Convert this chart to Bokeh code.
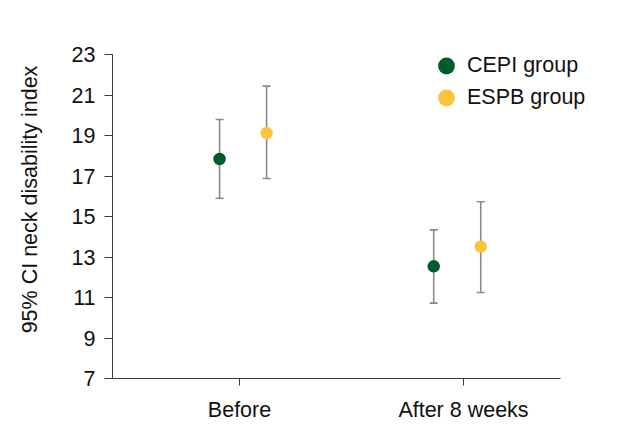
from bokeh.plotting import figure
from bokeh.models import (Range1d, FixedTicker, ColumnDataSource, Whisker, TeeHead,
                          Legend, LegendItem)
from bokeh.embed import file_html
from bokeh.resources import INLINE

# ---- data ----
categories = ["Before", "After 8 weeks"]
groups = ["CEPI group", "ESPB group"]
cepi_mean = [17.84, 12.54]
cepi_lower = [15.90, 10.72]
cepi_upper = [19.79, 14.34]
espb_mean = [19.12, 13.51]
espb_lower = [16.88, 11.25]
espb_upper = [21.44, 15.73]
y_ticks = [7, 9, 11, 13, 15, 17, 19, 21, 23]

# ---- style / layout ----
FONT = "Liberation Sans"
FS = "21.5px"
colors = {"CEPI group": "#005c2c", "ESPB group": "#fdc33c"}
dodge = {"CEPI group": -0.105, "ESPB group": 0.105}
# small horizontal nudge of each point pair relative to its tick (as in the source figure)
pair_nudge = {"Before": 0.016, "After 8 weeks": -0.028}
bar_color = "#8a8a8a"
axis_color = "#3a3a3a"

W, H = 615, 426
LEFT, TOP, BOTTOM_Y = 112, 20, 378     # frame edges in pixels
AX_TOP = 54                             # pixel where y axis ends (value 23)
X0, PX_PER_X = 0.433, 224.0
y_lo, y_hi = y_ticks[0], y_ticks[-1]
px_per_y = (BOTTOM_Y - AX_TOP) / (y_hi - y_lo)
y_end = y_hi + (AX_TOP - TOP) / px_per_y
x_axis_end = X0 + 2.0
x_end = X0 + (W - 5 - LEFT) / PX_PER_X

cat_pos = [i + 1 for i in range(len(categories))]

p = figure(width=W, height=H, output_backend="svg", toolbar_location=None,
           x_range=Range1d(X0, x_end), y_range=Range1d(y_lo, y_end),
           min_border_left=LEFT, min_border_right=5, min_border_top=TOP,
           min_border_bottom=H - BOTTOM_Y)
p.outline_line_color = None
p.xgrid.visible = False
p.ygrid.visible = False
p.background_fill_color = "white"
p.border_fill_color = "white"

series = {
    "CEPI group": (cepi_mean, cepi_lower, cepi_upper),
    "ESPB group": (espb_mean, espb_lower, espb_upper),
}
renderers = {}
for g in groups:
    m, lo, up = series[g]
    xs = [c + pair_nudge[cat] + dodge[g] for c, cat in zip(cat_pos, categories)]
    src = ColumnDataSource(dict(x=xs, mean=m, lower=lo, upper=up))
    w = Whisker(source=src, base="x", lower="lower", upper="upper", dimension="height",
                line_color=bar_color, line_width=1.6,
                upper_head=TeeHead(size=8, line_color=bar_color, line_width=1.6),
                lower_head=TeeHead(size=8, line_color=bar_color, line_width=1.6))
    p.add_layout(w)
    r = p.scatter("x", "mean", source=src, size=12.5, fill_color=colors[g],
                  line_color=colors[g], line_width=0)
    renderers[g] = r

# one legend per item so rows can sit closer than the glyph box
legend_rows = {"CEPI group": 65, "ESPB group": 97}   # pixel centre of each row
GW, GH = 42, 45
glyph_cx = 446
for g in groups:
    cy = legend_rows[g]
    lg = Legend(items=[LegendItem(label=g, renderers=[renderers[g]])],
                location=(glyph_cx - GW / 2 - LEFT, BOTTOM_Y - (cy + GH / 2)),
                glyph_width=GW, glyph_height=GH, spacing=0, label_standoff=0,
                padding=0, margin=0, border_line_color=None, background_fill_alpha=0,
                label_text_font=FONT, label_text_font_size=FS, label_text_color="#111111")
    p.add_layout(lg, "center")

# x axis
p.xaxis.ticker = FixedTicker(ticks=cat_pos)
p.xaxis.major_label_overrides = {c: lab for c, lab in zip(cat_pos, categories)}
p.xaxis.bounds = (X0, x_axis_end)
p.xaxis.minor_tick_line_color = None
p.xaxis.major_tick_in = 0
p.xaxis.major_tick_out = 7
p.xaxis.major_label_standoff = 12

# y axis
p.yaxis.ticker = FixedTicker(ticks=y_ticks)
p.yaxis.bounds = (y_lo, y_hi)
p.yaxis.minor_tick_line_color = None
p.yaxis.major_tick_in = 0
p.yaxis.major_tick_out = 8
p.yaxis.major_label_standoff = 9
p.yaxis.axis_label = "95% CI neck disability index"
p.yaxis.axis_label_standoff = 27
p.yaxis.axis_label_text_font_style = "normal"

for ax in (p.xaxis, p.yaxis):
    ax.axis_line_color = axis_color
    ax.major_tick_line_color = axis_color
    ax.major_label_text_font = FONT
    ax.major_label_text_font_size = FS
    ax.major_label_text_color = "#111111"
    ax.axis_label_text_font = FONT
    ax.axis_label_text_font_size = FS
    ax.axis_label_text_color = "#111111"

open("out.html", "w").write(file_html(p, INLINE))
